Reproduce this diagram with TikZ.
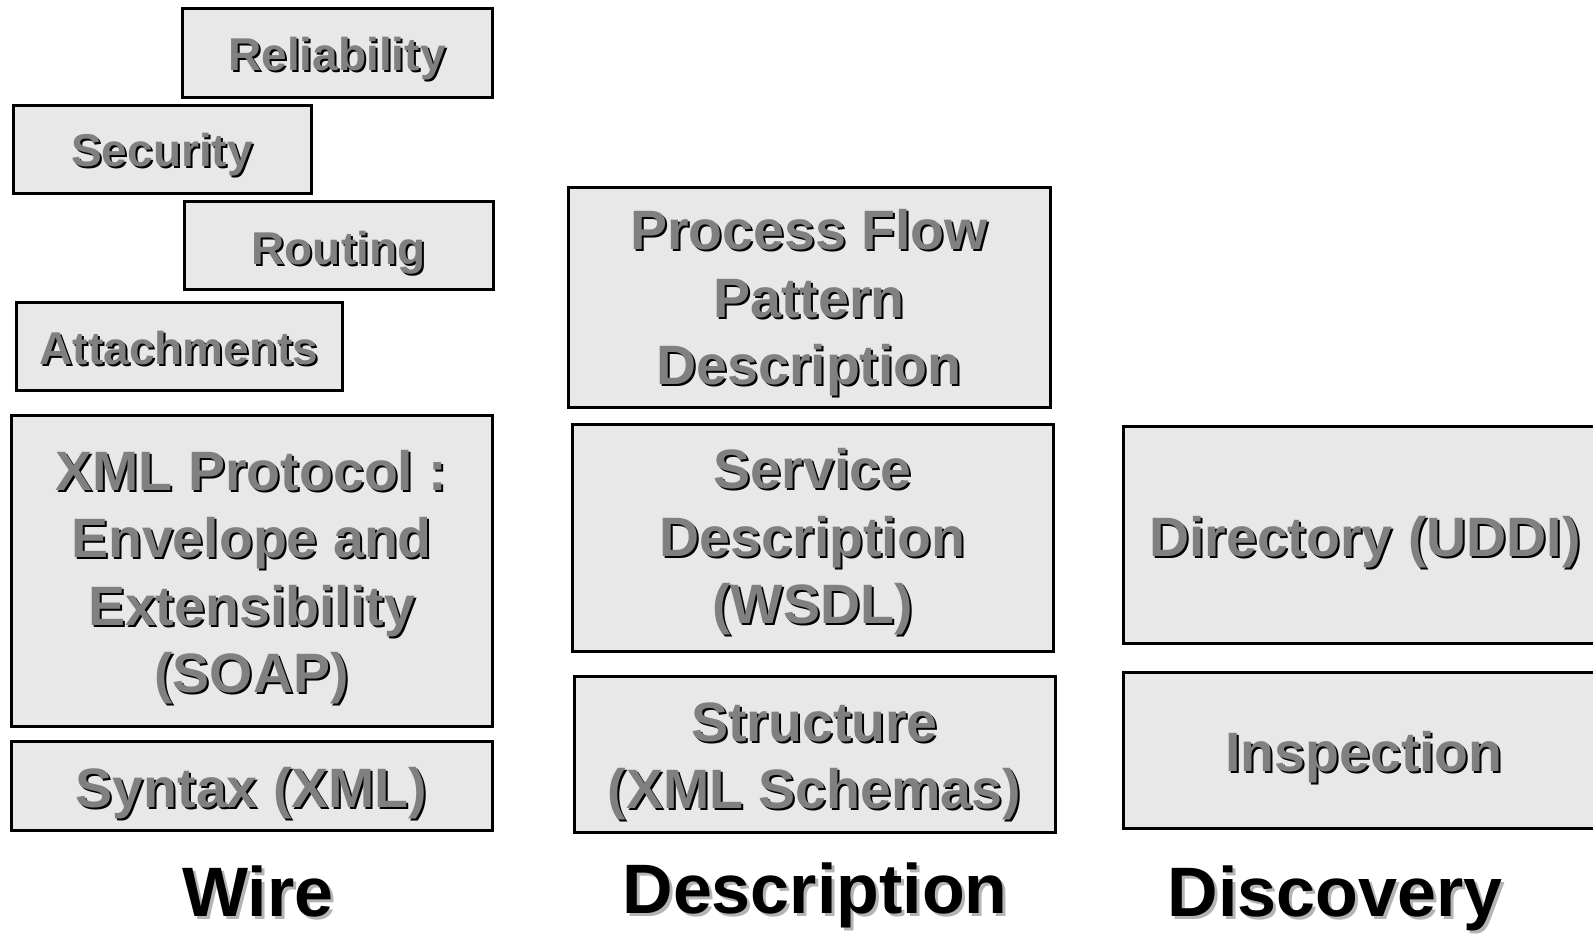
\documentclass[tikz,border=0pt]{standalone}
\usepackage{fontspec}
\setmainfont{Liberation Sans}
\usetikzlibrary{fit,calc}
\definecolor{boxfill}{HTML}{E8E8E8}
\definecolor{txtgray}{HTML}{808080}
\definecolor{shgray}{HTML}{B4B4B4}
\newcommand{\lstrut}{\rule[-0.25em]{0pt}{1em}}
\tikzset{
  layerbox/.style={draw=black, line width=3pt, fill=boxfill, inner sep=0pt},
  txtbase/.style={inner sep=0pt, outer sep=0pt, align=center},
  smalltxt/.style={font=\bfseries\fontsize{46}{55}\selectfont},
  bigtxt/.style={font=\bfseries\fontsize{55.5}{67.5}\selectfont},
  labeltxt/.style={font=\bfseries\fontsize{70}{82}\selectfont},
}
% name, x1, y1, x2, y2
\newcommand{\layer}[5]{%
  \coordinate (#1-nw) at (#2,#3);
  \coordinate (#1-se) at (#4,#5);
  \node[layerbox, fit=(#1-nw)(#1-se)] (#1) {};
}
% name, x, y, size style, front colour, shadow colour, shadow offset, text
\newcommand{\shtext}[8]{%
  \node[txtbase,#4,text=#6] (#1-sh) at ([xshift=#7pt,yshift=-#7pt]#2,#3) {#8};
  \node[txtbase,#4,text=#5] (#1) at (#2,#3) {#8};
}
\begin{document}
\begin{tikzpicture}[x=1pt,y=-1pt]
\useasboundingbox (0,0) rectangle (1593,935);
\clip (0,0) rectangle (1593,935);
% Wire column
\layer{rel}{182}{8}{492}{97}
\layer{sec}{13}{105}{311}{193}
\layer{rout}{184}{201}{493}{289}
\layer{att}{16}{302}{342}{390}
\layer{soap}{11}{415}{492}{726}
\layer{xml}{11}{741}{492}{830}
\shtext{relt}{337}{59}{smalltxt}{txtgray}{black}{2}{\lstrut Reliability}
\shtext{sect}{162}{154.5}{smalltxt}{txtgray}{black}{2}{\lstrut Security}
\shtext{routt}{338.5}{252.5}{smalltxt}{txtgray}{black}{2}{\lstrut Routing}
\shtext{attt}{179}{352.5}{smalltxt}{txtgray}{black}{2}{\lstrut Attachments}
\shtext{soapt}{251.5}{577.4}{bigtxt}{txtgray}{black}{2}{\lstrut XML Protocol :\\\lstrut Envelope and\\\lstrut Extensibility\\\lstrut (SOAP)}
\shtext{xmlt}{251.5}{794.1}{bigtxt}{txtgray}{black}{2}{\lstrut Syntax (XML)}
% Description column
\layer{proc}{568}{187}{1050}{407}
\layer{wsdl}{572}{424}{1053}{651}
\layer{struct}{574}{676}{1055}{832}
\shtext{proct}{809}{303.6}{bigtxt}{txtgray}{black}{2}{\lstrut Process Flow\\\lstrut Pattern\\\lstrut Description}
\shtext{wsdlt}{812.5}{542.6}{bigtxt}{txtgray}{black}{2}{\lstrut Service\\\lstrut Description\\\lstrut (WSDL)}
\shtext{structt}{814.5}{760.9}{bigtxt}{txtgray}{black}{2}{\lstrut Structure\\\lstrut (XML Schemas)}
% Discovery column
\layer{uddi}{1123}{426}{1608}{643}
\layer{insp}{1123}{672}{1608}{828}
\shtext{uddit}{1365}{543.1}{bigtxt}{txtgray}{black}{2}{\lstrut Directory (UDDI)}
\shtext{inspt}{1364}{758.1}{bigtxt}{txtgray}{black}{2}{\lstrut Inspection}
% column labels
\shtext{wire}{258}{899}{labeltxt}{black}{shgray}{3}{\lstrut Wire}
\shtext{desc}{815}{896}{labeltxt}{black}{shgray}{3}{\lstrut Description}
\shtext{disc}{1335}{899}{labeltxt}{black}{shgray}{3}{\lstrut Discovery}
\end{tikzpicture}
\end{document}
